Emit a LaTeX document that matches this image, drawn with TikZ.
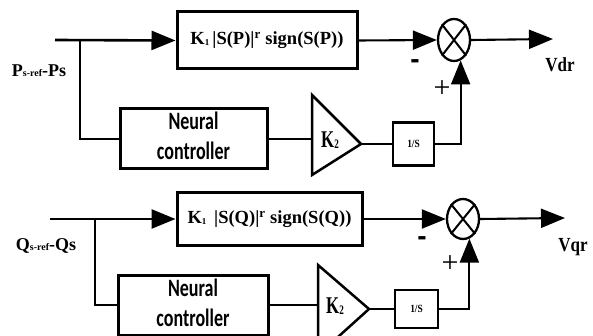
\documentclass[tikz,border=0pt]{standalone}
\usepackage{fontspec}
\setmainfont{Liberation Serif}
\newfontfamily\calib{Carlito}
\newfontfamily\arsans{Liberation Sans}
\usetikzlibrary{arrows.meta,shapes.geometric}
\newcommand{\fs}[1]{\fontsize{#1}{#1}\selectfont}
\newcommand{\nntxt}{\scalebox{0.72}[1]{\calib\bfseries\fontsize{25}{30}\selectfont\begin{tabular}{@{}c@{}}Neural\\controller\end{tabular}}}
\newcommand{\ktwo}{\scalebox{0.7}[1]{\bfseries\fs{24}K\raisebox{-1pt}{\fs{13}2}}}
\begin{document}
\begin{tikzpicture}[x=1pt,y=-1pt,
  conn/.style={line width=2.1pt},
  arr/.style={conn,-{Triangle[length=24pt,width=19pt]}},
  blockbox/.style={draw,line width=3pt,inner sep=0pt},
  sumnode/.style={draw,ellipse,line width=2.3pt,minimum width=32pt,minimum height=42pt,inner sep=0pt},
  lbl/.style={font=\bfseries\fs{20},inner sep=0pt},
  kbox/.style={blockbox,font=\bfseries\fs{18.5}},
  nnbox/.style={blockbox},
  gainbox/.style={blockbox,line width=2.6pt,font=\bfseries\fs{11}},
  tri/.style={line width=2.5pt,line join=miter},
  gaintext/.style={inner sep=0pt},
  minus/.style={font=\arsans\bfseries\fs{28},inner sep=0pt},
  plus/.style={font=\fs{30},inner sep=0pt},
  ]
\useasboundingbox (0,0) rectangle (593,336);
\clip (0,0) rectangle (593,336);

% ---------------- top loop ----------------
\node[kbox,minimum width=180pt,minimum height=57pt] (k1p) at (267,40.5)
  {K\raisebox{-1pt}{\fs{9}1}\,|S(P)|\textsuperscript{r} sign(S(P))};
\node[sumnode] (s1) at (454,40) {};
\draw[line width=2pt] (s1.north west) -- (s1.south east) (s1.north east) -- (s1.south west);
\coordinate (in1) at (55,40);
\coordinate (br1) at (80,40);
\coordinate (o1) at (553,39);
\draw[arr,line width=2.6pt] (in1) -- (k1p.west);
\draw[arr] (k1p.east) -- (s1.west);
\draw[arr] (s1.east) -- (o1);
\node[lbl] (vdr) at (560,65) {\scalebox{0.85}[1]{Vdr}};
\node[nnbox,minimum width=147pt,minimum height=58pt] (nc1) at (193.5,139) {\nntxt};
\draw[conn] (br1) |- (nc1.west);
\coordinate (t1a) at (312,95);
\coordinate (t1b) at (312,175);
\coordinate (t1c) at (361,144);
\draw[tri] (t1a) -- (t1c) -- (t1b) -- cycle;
\node[gaintext] (k2p) at (330,140) {\ktwo};
\draw[conn] (nc1.east) -- (nc1.east -| t1a);
\node[gainbox,minimum width=41pt,minimum height=43pt] (i1) at (413.5,144) {\scalebox{0.85}[1]{1/S}};
\draw[conn] (t1c) -- (i1.west);
\draw[arr] (i1.east) -| (s1.-72);
\node[minus] (m1) at (415,64) {-};
\node[plus] (p1) at (442,89) {+};
\node[inner sep=0pt,font=\bfseries] (lp) at (39,71) {{\fs{18}P}{\fs{10}s-ref}{\fs{18}-Ps}};

% ---------------- bottom loop ----------------
\node[kbox,minimum width=185pt,minimum height=52pt] (k1q) at (269.5,219)
  {K\raisebox{-1pt}{\fs{9}1}\ \,|S(Q)|\textsuperscript{r} sign(S(Q))};
\node[sumnode,minimum height=40pt] (s2) at (463,219) {};
\draw[line width=2pt] (s2.north west) -- (s2.south east) (s2.north east) -- (s2.south west);
\coordinate (in2) at (50,219);
\coordinate (br2) at (95,219);
\coordinate (o2) at (565,218);
\draw[arr,line width=2.6pt] (in2) -- (k1q.west);
\draw[arr] (k1q.east) -- (s2.west);
\draw[arr] (s2.east) -- (o2);
\node[lbl] (vqr) at (573,247) {\scalebox{0.85}[1]{Vqr}};
\node[nnbox,minimum width=150pt,minimum height=50pt] (nc2) at (193,305) {\nntxt};
\draw[conn] (br2) |- (nc2.west);
\coordinate (t2a) at (318,265);
\coordinate (t2b) at (318,355);
\coordinate (t2c) at (369,309);
\draw[tri] (t2a) -- (t2c) -- (t2b) -- cycle;
\node[gaintext] (k2q) at (335,306) {\ktwo};
\draw[conn] (nc2.east) -- (nc2.east -| t2a);
\node[gainbox,minimum width=43pt,minimum height=38pt] (i2) at (416.5,309) {\scalebox{0.85}[1]{1/S}};
\draw[conn] (t2c) -- (i2.west);
\draw[arr] (i2.east) -| (s2.-72);
\node[minus] (m2) at (422,241) {-};
\node[plus] (p2) at (450,264) {+};
\node[inner sep=0pt,font=\bfseries] (lq) at (46,246) {{\fs{18}Q}{\fs{10}s-ref}{\fs{18}-Qs}};
\end{tikzpicture}
\end{document}
